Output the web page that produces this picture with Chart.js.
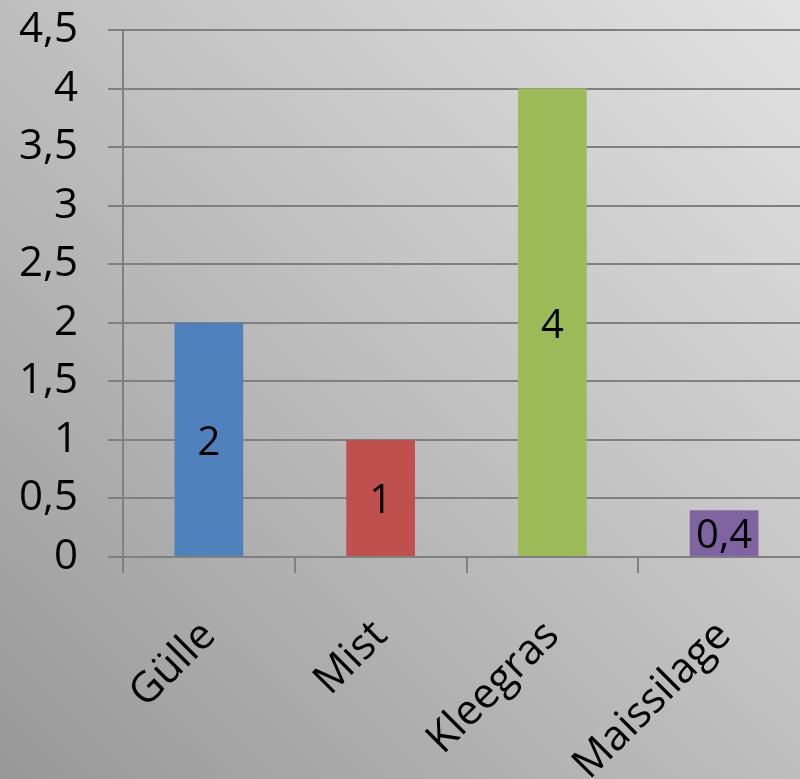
<!DOCTYPE html>
<html>
<head>
<meta charset="utf-8">
<script src="https://cdn.jsdelivr.net/npm/chart.js@4"></script>
<style>
    html, body { margin: 0; padding: 0; overflow: hidden; }
    body {
        width: 800px;
        height: 779px;
        background: linear-gradient(to bottom left, #e2e2e2 0%, #c2c2c2 45%, #989898 100%);
    }
    #wrap { width: 810px; height: 779px; }
</style>
</head>
<body>
<div id="wrap"><canvas id="balken"></canvas></div>
<script>
var kategorien = ["Gülle", "Mist", "Kleegras", "Maissilage"];
var werte = [2, 1, 4, 0.4];
var farben = ["#4f81bd", "#c0504d", "#9bbb59", "#8064a2"];

function komma(v) {
    return String(v).replace(".", ",");
}

// Werte mittig in die Balken schreiben
var balkenText = {
    id: "balkenText",
    afterDatasetsDraw: function (chart) {
        var ctx = chart.ctx;
        var meta = chart.getDatasetMeta(0);
        ctx.save();
        ctx.font = "40px 'Open Sans'";
        ctx.fillStyle = "#000";
        ctx.textAlign = "center";
        ctx.textBaseline = "middle";
        meta.data.forEach(function (bar, i) {
            var mitte = (bar.y + bar.base) / 2 + 4;
            ctx.fillText(komma(werte[i]), bar.x, mitte);
        });
        ctx.restore();
    }
};

var ctx = document.getElementById("balken").getContext("2d");
var chart = new Chart(ctx, {
    type: "bar",
    data: {
        labels: kategorien,
        datasets: [
            {
                data: werte,
                backgroundColor: farben,
                barPercentage: 0.4,
                categoryPercentage: 1.0,
            },
        ],
    },
    options: {
        responsive: true,
        maintainAspectRatio: false,
        animation: false,
        layout: { padding: { top: 30, left: 0, right: 0, bottom: 0 } },
        plugins: {
            legend: { display: false },
            tooltip: { enabled: false },
        },
        scales: {
            x: {
                grid: {
                    offset: true,
                    drawOnChartArea: false,
                    color: "#808080",
                    lineWidth: 2,
                    tickLength: 16,
                },
                border: { display: false },
                ticks: {
                    color: "#000",
                    font: { family: "'Open Sans'", size: 42 },
                    maxRotation: 45,
                    minRotation: 45,
                    padding: 38,
                    labelOffset: 0,
                },
                afterFit: function (s) {
                    s.height = 222;
                    s.paddingLeft = 0;
                    s.paddingRight = 0;
                },
            },
            y: {
                min: 0,
                max: 4.5,
                grid: {
                    color: "#808080",
                    lineWidth: 2,
                    tickLength: 15,
                },
                border: { color: "#808080", width: 2 },
                ticks: {
                    stepSize: 0.5,
                    color: "#000",
                    font: { family: "'Open Sans'", size: 42 },
                    padding: 30,
                    callback: function (v) { return komma(v); },
                },
                afterFit: function (s) {
                    s.width = 123;
                    s.paddingTop = 0;
                    s.paddingBottom = 0;
                },
            },
        },
    },
    plugins: [balkenText],
});
</script>
</body>
</html>
